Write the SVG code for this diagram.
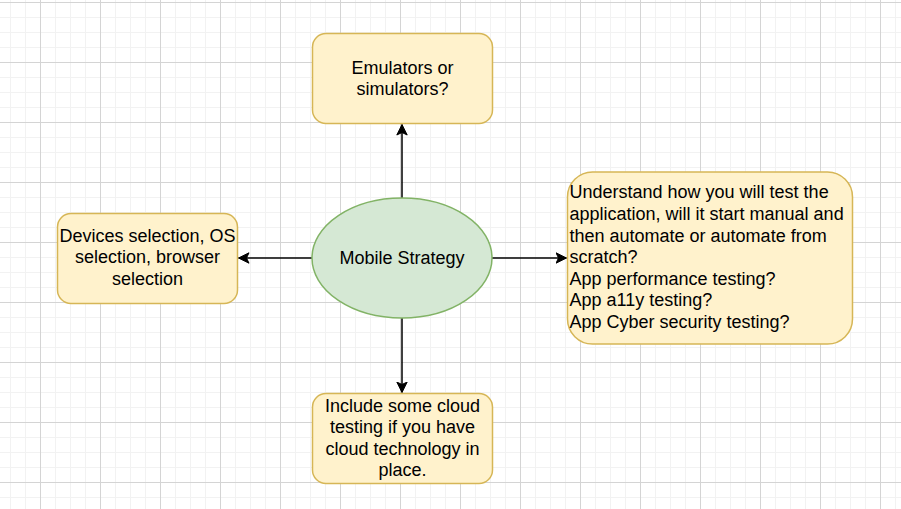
<svg xmlns="http://www.w3.org/2000/svg" width="901" height="509" viewBox="0 0 901 509">
  <defs>
    <pattern id="grid" x="40" y="2" width="60" height="60" patternUnits="userSpaceOnUse">
      <rect x="0" y="0" width="60" height="60" fill="#ffffff"/>
      <rect x="15" y="0" width="1" height="60" fill="#f2f2f2"/>
      <rect x="30" y="0" width="1" height="60" fill="#f2f2f2"/>
      <rect x="45" y="0" width="1" height="60" fill="#f2f2f2"/>
      <rect x="0" y="15" width="60" height="1" fill="#f2f2f2"/>
      <rect x="0" y="30" width="60" height="1" fill="#f2f2f2"/>
      <rect x="0" y="45" width="60" height="1" fill="#f2f2f2"/>
      <rect x="0" y="0" width="1" height="60" fill="#d4d4d4"/>
      <rect x="0" y="0" width="60" height="1" fill="#d4d4d4"/>
    </pattern>
    <marker id="arr" viewBox="0 0 12 12" refX="11" refY="6" markerWidth="12" markerHeight="12" markerUnits="userSpaceOnUse" orient="auto">
      <path d="M11,6 L0.5,0.8 L3,6 L0.5,11.2 Z" fill="#000000" stroke="#000000" stroke-width="1"/>
    </marker>
  </defs>
  <style>
    .box { fill: #fff2cc; stroke: #d6b656; stroke-width: 1.5; }
    .ell { fill: #d5e8d4; stroke: #82b366; stroke-width: 1.5; }
    .edge { stroke: #000000; stroke-width: 1.5; fill: none; marker-end: url(#arr); }
    text { font-family: "Liberation Sans", Arial, Helvetica, sans-serif; font-size: 18px; fill: #000000; }
    .c { text-anchor: middle; }
  </style>
  <rect x="0" y="0" width="901" height="509" fill="url(#grid)"/>

  <g id="connectors">
    <path class="edge" d="M402,198 L402,124.5"/>
    <path class="edge" d="M312,258 L238.5,258"/>
    <path class="edge" d="M492,258 L566.5,258"/>
    <path class="edge" d="M402,318 L402,392.5"/>
  </g>

  <g id="node-center">
    <ellipse class="ell" cx="402" cy="258" rx="90" ry="60"/>
    <text class="c" x="402" y="264">Mobile Strategy</text>
  </g>

  <g id="node-top">
    <rect class="box" x="312.5" y="33.5" width="180" height="90" rx="13.5" ry="13.5"/>
    <text class="c" x="402.5" y="73.5">Emulators or</text>
    <text class="c" x="402.5" y="95.1">simulators?</text>
  </g>

  <g id="node-left">
    <rect class="box" x="57.5" y="213.5" width="180" height="90" rx="13.5" ry="13.5"/>
    <text class="c" x="147.5" y="241.8">Devices selection, OS</text>
    <text class="c" x="147.5" y="263.4">selection, browser</text>
    <text class="c" x="147.5" y="285">selection</text>
  </g>

  <g id="node-right">
    <rect class="box" x="567.5" y="172" width="285" height="172" rx="25" ry="25"/>
    <text x="569.5" y="198.3">Understand how you will test the</text>
    <text x="569.5" y="219.9">application, will it start manual and</text>
    <text x="569.5" y="241.5">then automate or automate from</text>
    <text x="569.5" y="263.1">scratch?</text>
    <text x="569.5" y="284.7">App performance testing?</text>
    <text x="569.5" y="306.3">App a11y testing?</text>
    <text x="569.5" y="327.9">App Cyber security testing?</text>
  </g>

  <g id="node-bottom">
    <rect class="box" x="312.5" y="393.5" width="180" height="90" rx="13.5" ry="13.5"/>
    <text class="c" x="402.5" y="411.6">Include some cloud</text>
    <text class="c" x="402.5" y="433.2">testing if you have</text>
    <text class="c" x="402.5" y="454.8">cloud technology in</text>
    <text class="c" x="402.5" y="476.4">place.</text>
  </g>
</svg>
